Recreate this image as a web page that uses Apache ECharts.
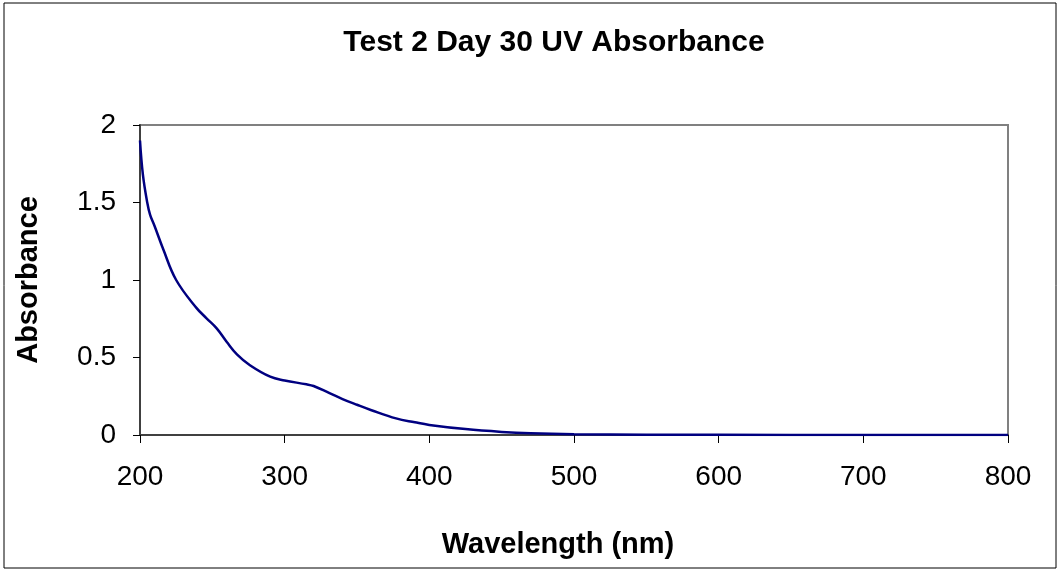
<!DOCTYPE html>
<html>
<head>
<meta charset="utf-8">
<script src="https://cdn.jsdelivr.net/npm/echarts@6/dist/echarts.min.js"></script>
<style>
  html, body { margin: 0; padding: 0; background: #fff; }
  #chart { width: 1061px; height: 571px; }
</style>
</head>
<body>
<div id="chart"></div>
<script>
const wavelengths = [200, 202, 205, 207, 210, 216, 225, 239, 246, 253, 260, 267, 276, 290, 300, 315, 320, 331, 340, 350, 360, 377, 390, 400, 425, 450, 470, 500, 550, 600, 700, 800];
const absorbance = [1.90, 1.68, 1.50, 1.42, 1.35, 1.20, 1.00, 0.82, 0.753, 0.688, 0.60, 0.52, 0.45, 0.376, 0.352, 0.327, 0.316, 0.27, 0.232, 0.195, 0.16, 0.107, 0.082, 0.065, 0.038, 0.02, 0.011, 0.005, 0.002, 0.001, 0.0, 0.0];

const chart = echarts.init(document.getElementById("chart"), null, { renderer: "canvas" });

const font = "Liberation Sans, Arial, sans-serif";
const boldText = { fontFamily: font, fontSize: 29, fontWeight: "bold", color: "#000" };

chart.setOption({
  backgroundColor: "#fff",
  animation: false,
  title: {
    text: "Test 2 Day 30 UV Absorbance",
    left: 549,
    textAlign: "center",
    top: 23,
    textStyle: { ...boldText, fontSize: 30 },
  },
  graphic: [
    {
      type: "rect",
      shape: { x: 4, y: 3, width: 1052, height: 565 },
      style: { fill: "none", stroke: "#000", lineWidth: 1 },
    },
    {
      type: "text",
      x: 558,
      y: 530,
      style: { text: "Wavelength (nm)", align: "center", ...boldText, fill: "#000" },
    },
  ],
  grid: {
    left: 140,
    top: 125,
    width: 868,
    height: 310,
    outerBoundsMode: "none",
    containLabel: false,
    show: true,
    borderColor: "#808080",
    borderWidth: 2,
    backgroundColor: "#fff",
  },
  xAxis: {
    type: "value",
    min: 200,
    max: 800,
    interval: 100,
    axisLine: { show: true, lineStyle: { color: "#404040", width: 2 } },
    axisTick: { show: true, length: 8, lineStyle: { color: "#000" } },
    axisLabel: { fontFamily: font, fontSize: 28, color: "#000", margin: 28 },
    splitLine: { show: false },
  },
  yAxis: {
    type: "value",
    min: 0,
    max: 2,
    interval: 0.5,
    name: "Absorbance",
    nameLocation: "middle",
    nameGap: 97,
    nameTextStyle: boldText,
    axisLine: { show: true, lineStyle: { color: "#404040", width: 2 } },
    axisTick: { show: true, length: 7, lineStyle: { color: "#000" } },
    axisLabel: { fontFamily: font, fontSize: 28, color: "#000", margin: 24 },
    splitLine: { show: false },
  },
  series: [
    {
      type: "line",
      data: wavelengths.map((w, i) => [w, absorbance[i]]),
      smooth: 0.4,
      showSymbol: false,
      lineStyle: { color: "#000080", width: 2.5 },
    },
  ],
});
</script>
</body>
</html>
